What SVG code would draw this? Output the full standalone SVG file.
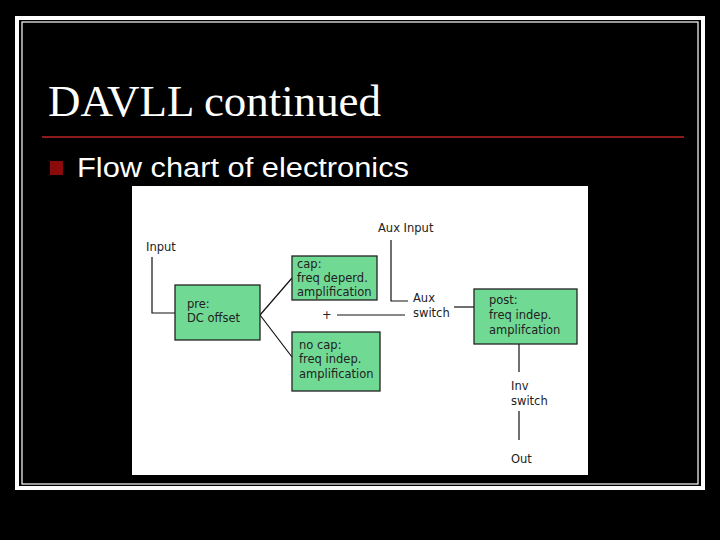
<svg xmlns="http://www.w3.org/2000/svg" width="720" height="540" viewBox="0 0 720 540">
<style>
.box{fill:#70d994;stroke:#222;stroke-width:1.3}
.t{font-family:"DejaVu Sans",sans-serif;font-size:11.5px;fill:#222}
.ln{stroke:#111;stroke-width:1.2;fill:none}
</style>
<rect width="720" height="540" fill="#000"/>
<rect x="17" y="18" width="686" height="470" fill="none" stroke="#fff" stroke-width="4"/>
<rect x="22" y="22" width="676" height="462" fill="none" stroke="#fff" stroke-width="1.2"/>
<text x="48" y="116" font-family="Liberation Serif,serif" font-size="44" fill="#fff" textLength="333" lengthAdjust="spacingAndGlyphs">DAVLL continued</text>
<line x1="42" y1="137" x2="684" y2="137" stroke="#8b1a1a" stroke-width="2"/>
<rect x="50" y="161" width="13" height="14" fill="#8b0a0a"/>
<text x="77" y="177" font-family="Liberation Sans,sans-serif" font-size="27" fill="#fff" textLength="332" lengthAdjust="spacingAndGlyphs">Flow chart of electronics</text>
<rect x="132" y="186" width="456" height="289" fill="#fff"/>
<g id="connectors">
<polyline class="ln" points="152,257 152,313 175,313"/>
<line class="ln" x1="260" y1="315" x2="292" y2="278"/>
<line class="ln" x1="260" y1="315" x2="292" y2="357"/>
<line class="ln" x1="337" y1="315" x2="405" y2="315"/>
<polyline class="ln" points="391,240 391,301 408,301"/>
<line class="ln" x1="454" y1="307" x2="474" y2="307"/>
<line class="ln" x1="519" y1="344" x2="519" y2="372"/>
<line class="ln" x1="519" y1="411" x2="519" y2="440"/>
</g>
<g id="input"><text class="t" x="146" y="251">Input</text></g>
<g id="pre"><rect class="box" x="175" y="285" width="85" height="55"/><text class="t" x="187" y="308">pre:</text><text class="t" x="187" y="322">DC offset</text></g>
<g id="cap"><rect class="box" x="292" y="256" width="85" height="44"/><text class="t" x="297" y="268">cap:</text><text class="t" x="297" y="282">freq deperd.</text><text class="t" x="297" y="296">amplification</text></g>
<g id="nocap"><rect class="box" x="292" y="332" width="88" height="59"/><text class="t" x="299" y="349">no cap:</text><text class="t" x="299" y="363">freq indep.</text><text class="t" x="299" y="378">amplification</text></g>
<g id="plus"><text class="t" x="322" y="319">+</text></g>
<g id="auxinput"><text class="t" x="378" y="232">Aux Input</text></g>
<g id="auxswitch"><text class="t" x="413" y="302">Aux</text><text class="t" x="413" y="317">switch</text></g>
<g id="post"><rect class="box" x="474" y="289" width="103" height="55"/><text class="t" x="489" y="304">post:</text><text class="t" x="489" y="319">freq indep.</text><text class="t" x="489" y="334">amplifcation</text></g>
<g id="invswitch"><text class="t" x="511" y="390">Inv</text><text class="t" x="511" y="405">switch</text></g>
<g id="out"><text class="t" x="511" y="463">Out</text></g>
</svg>
